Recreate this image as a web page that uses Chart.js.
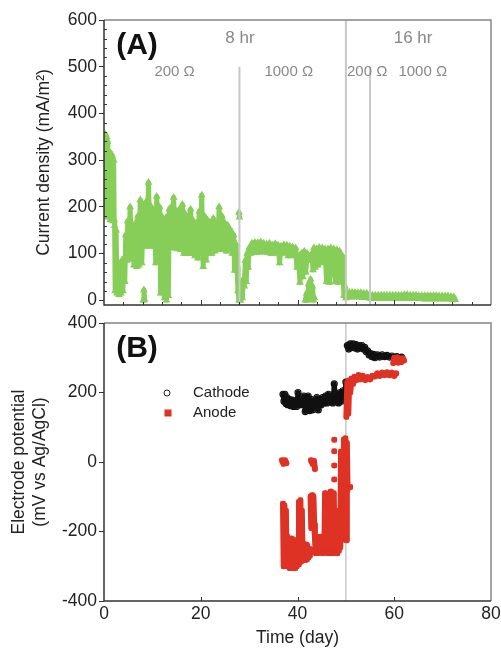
<!DOCTYPE html>
<html>
<head>
<meta charset="utf-8">
<script src="https://cdn.jsdelivr.net/npm/chart.js@4.4.0/dist/chart.umd.min.js"></script>
<style>
  html, body { margin: 0; padding: 0; background: #fff; }
  #wrap { position: relative; width: 501px; height: 649px; }
  canvas { position: absolute; left: 0; }
  #top { top: 0; }
  #bottom { top: 310px; }
</style>
</head>
<body>
<div id="wrap">
  <canvas id="top" width="501" height="310"></canvas>
  <canvas id="bottom" width="501" height="339"></canvas>
</div>
<script>
// (A) current density, [day, mA/m2]; null starts a new run
const currentDensity = [
  [0.0,180],[0.1,340],[0.2,185],[0.3,355],[0.4,190],[0.5,350],[0.6,182],[0.7,340],[0.8,180],[0.9,320],
  [1.0,178],[1.1,312],[1.3,172],[1.4,315],[1.6,172],[1.7,310],[1.9,170],[2.0,300],[2.1,172],
  [2.2,160],[2.3,20],[2.5,150],[2.7,15],[2.9,80],[3.1,12],[3.3,78],[3.5,15],[3.7,85],[3.9,20],
  [4.1,90],[4.3,40],[4.5,140],[4.7,85],[4.9,170],[5.1,90],[5.4,200],[5.7,88],[6.0,150],[6.2,75],
  [6.5,165],[6.8,72],[7.0,180],[7.2,75],[7.5,215],[7.8,80],[8.1,170],[8.3,120],[8.6,210],[8.9,115],
  [9.2,252],[9.5,120],[9.8,200],[10.1,115],[10.4,190],[10.7,80],[10.9,222],[11.2,120],[11.5,200],
  [11.7,15],[11.9,180],[12.1,20],[12.3,170],[12.5,5],[12.7,175],[12.9,0],[13.1,180],[13.3,10],
  [13.5,195],[13.7,115],[13.9,200],[14.2,112],[14.4,220],[14.7,112],[15.0,190],[15.3,110],[15.6,195],
  [15.9,108],[16.2,205],[16.5,100],[16.8,185],[17.1,100],[17.4,180],[17.7,100],[17.9,195],[18.2,100],
  [18.5,170],[18.8,95],[19.1,165],[19.4,90],[19.7,190],[19.9,100],[20.2,225],[20.5,72],[20.8,180],
  [21.1,86],[21.4,172],[21.7,100],[22.0,165],[22.3,100],[22.6,175],[22.9,105],[23.2,160],[23.5,108],
  [23.8,200],[24.1,110],[24.4,180],[24.7,108],[25.0,165],[25.3,105],[25.6,160],[25.9,110],[26.2,150],
  [26.5,100],[26.8,140],[27.0,64],[27.3,120],[27.5,70],[27.7,20],[27.9,0],
  null,
  [8.1,0],[8.25,22],[8.4,2],
  null,
  [27.9,188],[28.0,178],
  null,
  [28.1,30],[28.2,0],[28.4,25],[28.6,5],[28.8,45],[29.0,30],[29.2,85],[29.4,40],[29.6,100],[29.8,70],
  [30.0,112],[30.3,100],[30.6,122],[30.9,103],[31.2,124],[31.5,102],[31.8,123],[32.1,104],[32.4,125],
  [32.7,103],[33.0,122],[33.3,104],[33.6,120],[33.9,102],[34.2,122],[34.5,100],[34.8,118],[35.1,100],
  [35.4,121],[35.7,103],[36.0,118],[36.3,80],[36.6,116],[36.9,100],[37.2,119],[37.5,102],[37.8,118],
  [38.1,95],[38.4,116],[38.7,96],[39.0,114],[39.3,95],[39.6,112],[39.9,70],[40.2,95],[40.5,38],
  [40.8,100],[41.1,50],[41.4,105],[41.7,60],[42.0,100],[42.2,85],
  null,
  [41.6,0],[41.9,15],[42.1,0],[42.3,35],[42.5,5],[42.7,45],[42.9,10],[43.1,30],[43.3,0],[43.5,5],
  null,
  [43.0,100],[43.2,65],[43.4,112],[43.6,70],[43.9,110],[44.2,75],[44.5,113],[44.8,80],[45.1,112],
  [45.4,85],[45.7,110],[46.0,40],[46.3,110],[46.6,38],[46.9,112],[47.2,55],[47.5,110],[47.8,40],
  [48.1,108],[48.4,38],[48.7,105],[49.0,45],[49.3,95],[49.6,10],[49.8,30],[50.0,5],
  null,
  [50.1,16],[50.4,7],[50.7,17],[51.0,7],[51.3,17],[51.6,7],[51.9,17],[52.2,7],[52.5,16],[52.8,7],
  [53.1,16],[53.4,6],[53.7,15],[54.0,6],[54.3,15],[54.6,5],[54.9,12],[55.2,4],[55.5,11],[55.8,4],
  [56.1,11],[56.4,4],[56.7,11],[57.0,4],[57.3,11],[57.6,4],[57.9,11],[58.2,4],[58.5,11],[58.8,4],
  [59.1,11],[59.4,4],[59.7,11],[60.0,4],[60.3,11],[60.6,4],[60.9,11],[61.2,4],[61.5,11],[61.8,4],
  [62.1,12],[62.4,4],[62.7,12],[63.0,4],[63.3,11],[63.6,4],[63.9,11],[64.2,4],[64.5,11],[64.8,4],
  [65.1,10],[65.4,4],[65.7,10],[66.0,3],[66.3,10],[66.6,3],[66.9,10],[67.2,3],[67.5,10],[67.8,3],
  [68.1,10],[68.4,3],[68.7,10],[69.0,3],[69.3,9],[69.6,3],[69.9,9],[70.2,3],[70.5,9],[70.8,3],
  [71.1,9],[71.4,3],[71.7,8],[72.0,2],[72.3,7],[72.6,1]
];

// (B) electrode potentials, [day, mV vs Ag/AgCl]
const cathode = [
  [37.0,195],[37.2,175],[37.4,195],[37.6,168],[37.8,185],[38.0,165],[38.3,180],[38.6,162],[38.9,178],
  [39.2,160],[39.5,175],[39.8,160],[40.1,200],[40.4,165],[40.7,180],[41.0,165],[41.3,190],[41.6,145],
  [41.9,170],[42.2,190],[42.5,148],[42.8,180],[43.1,150],[43.4,175],[43.7,165],[44.0,185],[44.3,150],
  [44.6,180],[44.9,165],[45.2,185],[45.5,170],[45.8,190],[46.1,170],[46.4,195],[46.7,175],[47.0,190],
  [47.3,170],[47.6,225],[47.9,175],[48.2,185],[48.5,170],[48.8,200],[49.1,175],[49.4,205],[49.7,180],
  [50.0,230],
  null,
  [50.3,335],[50.6,325],[50.9,340],[51.2,330],[51.5,340],[51.8,328],[52.1,338],[52.4,325],[52.7,335],
  [53.0,328],[53.3,335],[53.6,325],[53.9,330],[54.2,318],[54.5,320],[54.8,308],[55.1,312],[55.4,303],
  [55.7,310],[56.0,300],[56.5,308],[57.0,302],[57.5,308],[58.0,303],[58.5,307],[59.0,302],[59.5,305],
  [60.0,300],[60.5,303],[61.0,298],[61.5,302]
];

const anode = [
  [36.8,5],[37.1,-5],[37.4,5],[37.7,-3],
  null,
  [37.0,-120],[37.15,-300],[37.3,-125],[37.45,-295],[37.6,-140],[37.75,-290],[37.9,-215],[38.05,-300],
  [38.2,-220],[38.35,-305],[38.5,-225],[38.65,-300],[38.8,-220],[38.95,-305],[39.1,-230],[39.25,-300],
  [39.4,-225],[39.55,-305],[39.7,-235],[39.85,-300],[40.0,-230],[40.15,-295],[40.3,-115],[40.45,-290],
  [40.6,-110],[40.75,-285],[40.9,-140],[41.05,-280],[41.2,-235],[41.35,-280],[41.5,-240],[41.65,-282],
  [41.8,-238],[41.95,-280],[42.1,-245],[42.25,-275],[42.4,-250],[42.55,-270],
  null,
  [42.8,5],[43.1,-5],[43.4,3],[43.6,-20],
  null,
  [42.7,-100],[42.85,-190],[43.0,-96],[43.15,-185],[43.3,-100],[43.45,-180],[43.6,-215],[43.75,-262],
  [43.9,-218],[44.05,-260],[44.2,-215],[44.35,-262],[44.5,-220],[44.65,-258],[44.8,-215],[44.95,-260],
  [45.1,-220],[45.25,-262],[45.4,-215],[45.55,-255],[45.7,-90],[45.85,-258],[46.0,-120],[46.15,-262],
  [46.3,-150],[46.45,-260],[46.6,-100],[46.75,-262],[46.9,-85],[47.05,-258],[47.2,-120],[47.35,-262],
  [47.5,-90],[47.65,-258],[47.8,-140],[47.95,-260],[48.1,-200],[48.25,-262],[48.4,-210],[48.55,-255],
  [48.7,-150],[48.85,-245],[49.0,30],[49.15,-220],[49.3,-60],[49.45,-200],[49.6,65],[49.75,-180],
  [49.9,68],[50.05,-225],[50.2,55],[50.35,-80],
  null, [47.6,64], null, [47.6,31], null, [47.6,-10], null, [47.6,-50], null, [50.9,-72],
  null,
  [50.1,130],[50.3,230],[50.5,140],[50.7,235],[50.9,200],[51.2,240],[51.5,225],[51.8,245],[52.2,236],
  [52.6,250],[53.0,238],[53.5,248],[54.0,236],[54.5,244],[55.0,238],[55.5,248],[56.0,246],[56.5,255],
  [57.0,248],[57.5,257],[58.0,250],[58.5,258],[59.0,250],[59.5,257],[60.0,248],[60.4,255],
  null,
  [59.8,285],[60.0,300],[60.3,288],[60.6,300],[60.9,286],[61.2,298],[61.5,288],[61.8,298],[62.0,292]
];

// resistor / feeding changes in (A)
const switchDay = [28, 50, 55];
const switchTop = [500, 600, 500];
const noteText = ['8 hr', '16 hr', '200 Ω', '1000 Ω', '200 Ω', '1000 Ω'];
const noteDay = [28.1, 63.9, 14.6, 38.2, 54.4, 65.9];
const noteVal = [560, 560, 490, 490, 490, 490];
const noteSize = [17, 17, 15, 15, 15, 15];

const topYTicks = [0, 100, 200, 300, 400, 500, 600];
const topXTicks = [4, 8, 12, 16, 20, 24, 28, 32, 36, 40, 44, 48, 52, 56, 60, 64, 68, 72, 76];
const topYMinor = [20, 40, 60, 80, 120, 140, 160, 180, 220, 240, 260, 280, 320, 340, 360, 380,
  420, 440, 460, 480, 520, 540, 560, 580];
const bottomXTicks = [20, 40, 60];

const green = '#86ce58';
const red = '#de3224';
const FONT = '"Liberation Sans", Arial, Helvetica, sans-serif';

Chart.defaults.font.family = FONT;
Chart.defaults.color = '#222';

const toPoints = list => list.map((p, i) => p ? { x: p[0], y: p[1] } : { x: list[i - 1][0], y: null });

const fixBox = (w, h) => scale => {
  if (w != null) scale.width = w;
  if (h != null) scale.height = h;
  scale.paddingTop = scale.paddingBottom = scale.paddingLeft = scale.paddingRight = 0;
};

const framePlugin = {
  id: 'frame',
  afterDraw(chart, args, o) {
    const { ctx, chartArea: a, scales: { x, y } } = chart;
    ctx.save();
    ctx.lineWidth = 1;
    ctx.strokeStyle = '#333';
    ctx.beginPath();
    (o.xIn || []).forEach(v => {
      const px = Math.round(x.getPixelForValue(v)) + 0.5;
      const len = v % 20 === 0 ? o.xMajor : o.xMinor;
      ctx.moveTo(px, a.bottom);
      ctx.lineTo(px, a.bottom - len);
    });
    (o.yIn || []).forEach(v => {
      const py = Math.round(y.getPixelForValue(v)) + 0.5;
      ctx.moveTo(a.left, py);
      ctx.lineTo(a.left + o.yLen, py);
    });
    ctx.stroke();
    ctx.lineWidth = 1.5;
    ctx.strokeStyle = '#858585';
    ctx.beginPath();
    ctx.moveTo(a.left, a.top);
    ctx.lineTo(a.right, a.top);
    ctx.lineTo(a.right, a.bottom);
    ctx.stroke();
    ctx.strokeStyle = '#333';
    ctx.beginPath();
    ctx.moveTo(a.left, a.top);
    ctx.lineTo(a.left, a.bottom);
    ctx.lineTo(a.right, a.bottom);
    ctx.stroke();
    ctx.restore();
  }
};

const notesPlugin = {
  id: 'notes',
  afterDraw(chart, args, o) {
    const { ctx, chartArea: a, scales: { x, y } } = chart;
    ctx.save();
    ctx.textAlign = 'center';
    ctx.textBaseline = 'middle';
    ctx.font = 'bold 30px ' + FONT;
    ctx.fillStyle = '#111';
    ctx.fillText(o.panel, a.left + 33, a.top + 26);
    (o.text || []).forEach((t, i) => {
      ctx.font = o.size[i] + 'px ' + FONT;
      ctx.fillStyle = '#888';
      ctx.fillText(t, x.getPixelForValue(o.day[i]), y.getPixelForValue(o.val[i]));
    });
    if (o.legend) {
      ctx.textAlign = 'left';
      ctx.font = '15px ' + FONT;
      ctx.fillStyle = '#222';
      ctx.strokeStyle = '#222';
      ctx.lineWidth = 1;
      ctx.beginPath();
      ctx.arc(a.left + 63, a.top + 70, 3, 0, Math.PI * 2);
      ctx.stroke();
      ctx.fillText('Cathode', a.left + 89, a.top + 70);
      ctx.fillStyle = red;
      ctx.fillRect(a.left + 60.5, a.top + 86.5, 7, 7);
      ctx.fillStyle = '#222';
      ctx.fillText('Anode', a.left + 89, a.top + 90);
    }
    ctx.restore();
  }
};

// panel A
new Chart(document.getElementById('top'), {
  type: 'line',
  data: {
    datasets: [
      ...switchDay.map((d, i) => ({
        data: [{ x: d, y: switchTop[i] }, { x: d, y: -10 }],
        borderColor: '#c8c8c8',
        borderWidth: 2,
        pointRadius: 0,
        order: 0
      })),
      {
        label: 'Current density',
        data: toPoints(currentDensity),
        borderColor: green,
        borderWidth: 5,
        borderJoinStyle: 'round',
        borderCapStyle: 'round',
        pointStyle: 'triangle',
        pointRadius: 4.5,
        pointBorderWidth: 0,
        pointBackgroundColor: green,
        spanGaps: false,
        order: 1
      }
    ]
  },
  options: {
    responsive: false,
    animation: false,
    events: [],
    layout: { padding: { left: 0, right: 10, top: 20, bottom: 0 } },
    plugins: {
      legend: { display: false },
      tooltip: { enabled: false },
      frame: { xIn: topXTicks, xMinor: 3, xMajor: 5, yIn: topYMinor, yLen: 3 },
      notes: { panel: '(A)', text: noteText, day: noteDay, val: noteVal, size: noteSize }
    },
    scales: {
      x: {
        type: 'linear', min: 0, max: 80,
        ticks: { display: false, stepSize: 20 },
        grid: { display: false, drawTicks: false },
        border: { display: false },
        afterFit: fixBox(null, 5)
      },
      y: {
        min: -10, max: 600,
        afterBuildTicks: s => { s.ticks = topYTicks.map(v => ({ value: v })); },
        ticks: { padding: 2, font: { size: 17.5 }, color: '#222' },
        grid: { drawOnChartArea: false, drawTicks: true, tickLength: 5, color: '#333' },
        border: { display: false },
        title: {
          display: true, text: 'Current density (mA/m²)', color: '#222',
          font: { size: 17.5, lineHeight: 1.2 }, padding: { top: 33.5, bottom: 0 }
        },
        afterFit: fixBox(104, null)
      }
    }
  },
  plugins: [framePlugin, notesPlugin]
});

// panel B
new Chart(document.getElementById('bottom'), {
  type: 'line',
  data: {
    datasets: [
      {
        data: [{ x: 50, y: -400 }, { x: 50, y: 400 }],
        borderColor: '#c8c8c8',
        borderWidth: 1.5,
        pointRadius: 0,
        order: 3
      },
      {
        label: 'Cathode',
        data: toPoints(cathode),
        borderColor: '#111',
        borderWidth: 5,
        borderJoinStyle: 'round',
        borderCapStyle: 'round',
        pointStyle: 'circle',
        pointRadius: 3,
        pointBorderWidth: 1.2,
        pointBorderColor: '#111',
        pointBackgroundColor: 'rgba(255,255,255,0)',
        spanGaps: false,
        order: 2
      },
      {
        label: 'Anode',
        data: toPoints(anode),
        borderColor: red,
        borderWidth: 6,
        borderJoinStyle: 'round',
        borderCapStyle: 'round',
        pointStyle: 'rect',
        pointRadius: 3.5,
        pointBorderWidth: 0,
        pointBackgroundColor: red,
        spanGaps: false,
        order: 1
      }
    ]
  },
  options: {
    responsive: false,
    animation: false,
    events: [],
    layout: { padding: { left: 0, right: 10, top: 13, bottom: 0 } },
    plugins: {
      legend: { display: false },
      tooltip: { enabled: false },
      frame: { xIn: bottomXTicks, xMinor: 4, xMajor: 4 },
      notes: { panel: '(B)', legend: true }
    },
    scales: {
      x: {
        type: 'linear', min: 0, max: 80,
        ticks: { stepSize: 20, padding: 3, maxRotation: 0, font: { size: 17.5 }, color: '#222' },
        grid: { display: false, drawTicks: false },
        border: { display: false },
        title: {
          display: true, text: 'Time (day)', color: '#222',
          font: { size: 17.5, lineHeight: 1.2 }, padding: { top: 0, bottom: 0 }
        },
        afterFit: fixBox(null, 48)
      },
      y: {
        min: -400, max: 400,
        ticks: { stepSize: 200, padding: 2, font: { size: 17.5 }, color: '#222' },
        grid: { drawOnChartArea: false, drawTicks: true, tickLength: 5, color: '#333' },
        border: { display: false },
        title: {
          display: true, text: ['Electrode potential', '(mV vs Ag/AgCl)'], color: '#222',
          font: { size: 17.5, lineHeight: 1.2 }, padding: { top: 8.5, bottom: 0 }
        },
        afterFit: fixBox(104, null)
      }
    }
  },
  plugins: [framePlugin, notesPlugin]
});
</script>
</body>
</html>
